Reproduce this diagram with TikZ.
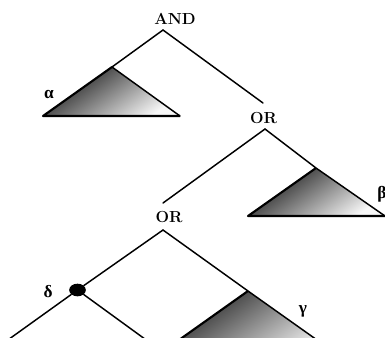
\documentclass[tikz,border=0pt]{standalone}
\usepackage{fontspec}
\newfontfamily\grkfont{Liberation Serif}
\usetikzlibrary{shapes.geometric}

\begin{document}
\begin{tikzpicture}[x=0.75pt,y=-0.75pt,
      op/.style={font=\fontsize{12}{14}\selectfont\bfseries, inner sep=0pt},
      greek/.style={font=\fontsize{13}{15}\selectfont\grkfont\bfseries, inner sep=0pt},
      edge/.style={line width=1.1pt, line cap=round},
      rim/.style={line width=1.6pt, line join=round},
      sub/.style={top color=black!92, middle color=gray!32, bottom color=gray!6, shading angle=35},
      knot/.style={ellipse, fill=black, inner sep=0pt, minimum width=12.5pt, minimum height=9.5pt}]
    \useasboundingbox (0,0) rectangle (385,337);
    \clip (0,0) rectangle (385,337);
    \node[op] (andlbl) at (175,18.5) {AND};
    \node[op] (or1lbl) at (263.5,118) {OR};
    \node[op] (or2lbl) at (169,217) {OR};
    \coordinate (and) at (163,30);
    \coordinate (or1) at (265,129);
    \coordinate (or1in) at (263,103);
    \coordinate (or2) at (163,230);
    \coordinate (or2in) at (163,203);
    \coordinate (a) at (112,67);
    \coordinate (a1) at (43,116);
    \coordinate (a2) at (180,116);
    \coordinate (b) at (316,168);
    \coordinate (b1) at (248,216);
    \coordinate (b2) at (385,216);
    \coordinate (c) at (248,291);
    \coordinate (c1) at (155,357);
    \coordinate (c2) at (341,357);
    \node[knot] (d) at (77.5,290) {};
    \coordinate (dl) at (5,342);
    \coordinate (dr) at (149,342);
    \shade[sub] (a) -- (a1) -- (a2) -- cycle;
    \shade[sub] (b) -- (b1) -- (b2) -- cycle;
    \shade[sub] (c) -- (c1) -- (c2) -- cycle;
    \draw[rim] (a2) -- (a1) -- (a);
    \draw[rim] (b2) -- (b1) -- (b);
    \draw[rim] (c1) -- (c);
    \draw[edge] (and) -- (a) -- (a2);
    \draw[edge] (and) -- (or1in);
    \draw[edge] (or1) -- (b) -- (b2);
    \draw[edge] (or1) -- (or2in);
    \draw[edge] (or2) -- (c) -- (c2);
    \draw[edge] (or2) -- (d);
    \draw[edge] (d) -- (dl);
    \draw[edge] (d) -- (dr);
    \node[greek] (alpha) at (49,94) {α};
    \node[greek] (beta) at (382,194) {β};
    \node[greek] (gamma) at (303,311) {γ};
    \node[greek] (delta) at (48,292) {δ};
  \end{tikzpicture}
\end{document}
